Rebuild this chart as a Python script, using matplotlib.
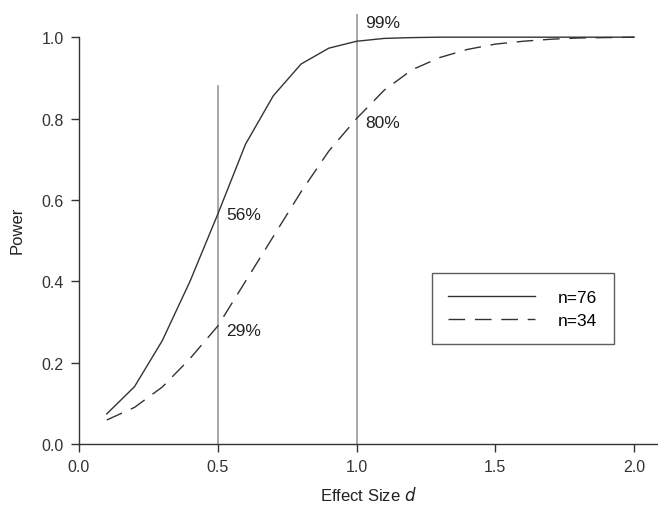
import matplotlib
matplotlib.use("Agg")
import matplotlib.pyplot as plt

# effect sizes and power values
effect = [0.1, 0.2, 0.3, 0.4, 0.5, 0.6, 0.7, 0.8, 0.9, 1.0,
          1.1, 1.2, 1.3, 1.4, 1.5, 1.6, 1.7, 1.8, 1.9, 2.0]
power_76 = [0.074, 0.141, 0.254, 0.40, 0.565, 0.737, 0.856, 0.934, 0.973, 0.99,
            0.997, 0.999, 1.0, 1.0, 1.0, 1.0, 1.0, 1.0, 1.0, 1.0]
power_34 = [0.059, 0.09, 0.14, 0.21, 0.29, 0.40, 0.51, 0.62, 0.72, 0.80,
            0.87, 0.92, 0.95, 0.97, 0.983, 0.99, 0.995, 0.998, 0.999, 1.0]

# reference lines and their labels
ref_x = [0.5, 1.0]
ref_top = [0.88, 1.057]
labels = ["56%", "29%", "80%", "99%"]
label_x = [0.53, 0.53, 1.03, 1.03]
label_y = [0.565, 0.28, 0.79, 1.035]

plt.rcParams['font.family'] = ['Liberation Sans', 'DejaVu Sans']
fig = plt.figure(figsize=(6.58, 5.10), dpi=100)
ax = fig.add_axes([79/658, 1 - 445/510, 1 - 79/658, (445 - 15)/510])

dark = "#333333"
ax.plot(effect, power_76, color=dark, lw=1.0, label="n=76")
ax.plot(effect, power_34, color=dark, lw=1.0, dashes=(12, 7), label="n=34")

for xv, top in zip(ref_x, ref_top):
    ax.plot([xv, xv], [0, top], color="#999999", lw=1.2, zorder=1)

for t, xv, yv in zip(labels, label_x, label_y):
    ax.text(xv, yv, t, fontsize=12.5, color="#222222", va="center", ha="left")

ax.set_xlim(0, 2.086)
ax.set_ylim(0, 1.057)
ax.set_xticks([0.0, 0.5, 1.0, 1.5, 2.0])
ax.set_yticks([0.0, 0.2, 0.4, 0.6, 0.8, 1.0])
ax.set_xticklabels(["0.0", "0.5", "1.0", "1.5", "2.0"])
ax.set_yticklabels(["0.0", "0.2", "0.4", "0.6", "0.8", "1.0"])
ax.spines['top'].set_visible(False)
ax.spines['right'].set_visible(False)
ax.spines['left'].set_bounds(0, 1.0)
for s in ['left', 'bottom']:
    ax.spines[s].set_color(dark)
    ax.spines[s].set_linewidth(1.0)
ax.tick_params(direction='out', length=6, width=1, colors=dark, labelsize=11.5, pad=5)

ax.set_xlabel("Effect Size $\\it{d}$", fontsize=12, color="#222222", labelpad=8)
ax.set_ylabel("Power", fontsize=12, color="#222222", labelpad=12)

leg = ax.legend(loc="upper left", bbox_to_anchor=((432 - 79)/579, 1 - (274 - 15)/430),
                fontsize=12.5, frameon=True, fancybox=False, handlelength=5.0,
                handletextpad=1.3, borderpad=0.95, labelspacing=0.45, borderaxespad=0)
leg.get_frame().set_edgecolor(dark)
leg.get_frame().set_linewidth(1.0)

fig.savefig("out.png", dpi=100)
